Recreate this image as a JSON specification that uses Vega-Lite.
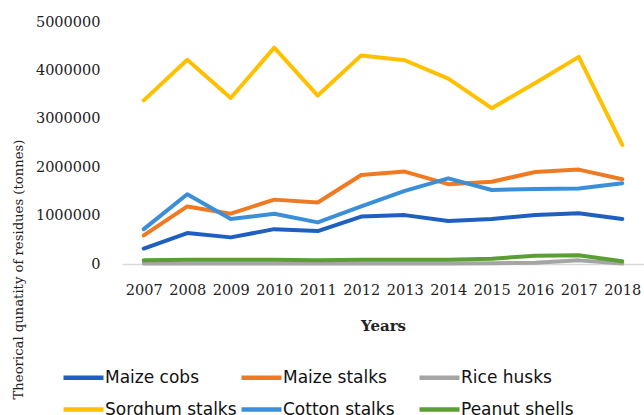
{
  "$schema": "https://vega.github.io/schema/vega-lite/v6.json",
  "autosize": "none",
  "width": 522,
  "height": 242,
  "padding": {"left": 122, "top": 22, "right": 0, "bottom": 151},
  "background": "white",
  "config": {"view": {"stroke": null}},
  "data": {"values": [
    {"year": "2007", "crop": "Maize cobs", "value": 320000},
    {"year": "2008", "crop": "Maize cobs", "value": 640000},
    {"year": "2009", "crop": "Maize cobs", "value": 550000},
    {"year": "2010", "crop": "Maize cobs", "value": 720000},
    {"year": "2011", "crop": "Maize cobs", "value": 680000},
    {"year": "2012", "crop": "Maize cobs", "value": 980000},
    {"year": "2013", "crop": "Maize cobs", "value": 1010000},
    {"year": "2014", "crop": "Maize cobs", "value": 890000},
    {"year": "2015", "crop": "Maize cobs", "value": 930000},
    {"year": "2016", "crop": "Maize cobs", "value": 1010000},
    {"year": "2017", "crop": "Maize cobs", "value": 1050000},
    {"year": "2018", "crop": "Maize cobs", "value": 930000},
    {"year": "2007", "crop": "Maize stalks", "value": 590000},
    {"year": "2008", "crop": "Maize stalks", "value": 1190000},
    {"year": "2009", "crop": "Maize stalks", "value": 1040000},
    {"year": "2010", "crop": "Maize stalks", "value": 1330000},
    {"year": "2011", "crop": "Maize stalks", "value": 1270000},
    {"year": "2012", "crop": "Maize stalks", "value": 1840000},
    {"year": "2013", "crop": "Maize stalks", "value": 1910000},
    {"year": "2014", "crop": "Maize stalks", "value": 1650000},
    {"year": "2015", "crop": "Maize stalks", "value": 1700000},
    {"year": "2016", "crop": "Maize stalks", "value": 1900000},
    {"year": "2017", "crop": "Maize stalks", "value": 1950000},
    {"year": "2018", "crop": "Maize stalks", "value": 1750000},
    {"year": "2007", "crop": "Rice husks", "value": 10000},
    {"year": "2008", "crop": "Rice husks", "value": 12000},
    {"year": "2009", "crop": "Rice husks", "value": 12000},
    {"year": "2010", "crop": "Rice husks", "value": 12000},
    {"year": "2011", "crop": "Rice husks", "value": 10000},
    {"year": "2012", "crop": "Rice husks", "value": 12000},
    {"year": "2013", "crop": "Rice husks", "value": 12000},
    {"year": "2014", "crop": "Rice husks", "value": 12000},
    {"year": "2015", "crop": "Rice husks", "value": 15000},
    {"year": "2016", "crop": "Rice husks", "value": 25000},
    {"year": "2017", "crop": "Rice husks", "value": 75000},
    {"year": "2018", "crop": "Rice husks", "value": 8000},
    {"year": "2007", "crop": "Sorghum stalks", "value": 3380000},
    {"year": "2008", "crop": "Sorghum stalks", "value": 4220000},
    {"year": "2009", "crop": "Sorghum stalks", "value": 3430000},
    {"year": "2010", "crop": "Sorghum stalks", "value": 4470000},
    {"year": "2011", "crop": "Sorghum stalks", "value": 3480000},
    {"year": "2012", "crop": "Sorghum stalks", "value": 4310000},
    {"year": "2013", "crop": "Sorghum stalks", "value": 4210000},
    {"year": "2014", "crop": "Sorghum stalks", "value": 3830000},
    {"year": "2015", "crop": "Sorghum stalks", "value": 3220000},
    {"year": "2016", "crop": "Sorghum stalks", "value": 3740000},
    {"year": "2017", "crop": "Sorghum stalks", "value": 4280000},
    {"year": "2018", "crop": "Sorghum stalks", "value": 2460000},
    {"year": "2007", "crop": "Cotton stalks", "value": 720000},
    {"year": "2008", "crop": "Cotton stalks", "value": 1440000},
    {"year": "2009", "crop": "Cotton stalks", "value": 930000},
    {"year": "2010", "crop": "Cotton stalks", "value": 1040000},
    {"year": "2011", "crop": "Cotton stalks", "value": 860000},
    {"year": "2012", "crop": "Cotton stalks", "value": 1190000},
    {"year": "2013", "crop": "Cotton stalks", "value": 1510000},
    {"year": "2014", "crop": "Cotton stalks", "value": 1770000},
    {"year": "2015", "crop": "Cotton stalks", "value": 1530000},
    {"year": "2016", "crop": "Cotton stalks", "value": 1550000},
    {"year": "2017", "crop": "Cotton stalks", "value": 1560000},
    {"year": "2018", "crop": "Cotton stalks", "value": 1670000},
    {"year": "2007", "crop": "Peanut shells", "value": 75000},
    {"year": "2008", "crop": "Peanut shells", "value": 90000},
    {"year": "2009", "crop": "Peanut shells", "value": 90000},
    {"year": "2010", "crop": "Peanut shells", "value": 90000},
    {"year": "2011", "crop": "Peanut shells", "value": 80000},
    {"year": "2012", "crop": "Peanut shells", "value": 90000},
    {"year": "2013", "crop": "Peanut shells", "value": 90000},
    {"year": "2014", "crop": "Peanut shells", "value": 90000},
    {"year": "2015", "crop": "Peanut shells", "value": 110000},
    {"year": "2016", "crop": "Peanut shells", "value": 170000},
    {"year": "2017", "crop": "Peanut shells", "value": 180000},
    {"year": "2018", "crop": "Peanut shells", "value": 55000}
  ]},
  "mark": {"type": "line", "strokeWidth": 4, "strokeCap": "round", "strokeJoin": "round"},
  "encoding": {
    "x": {
      "field": "year", "type": "ordinal",
      "scale": {"type": "point", "padding": 0.5},
      "axis": {
        "title": "Years",
        "labelAngle": 0,
        "labelFont": "DejaVu Serif", "labelFontSize": 14.5, "labelColor": "#222222",
        "labelPadding": 19,
        "ticks": false,
        "grid": false,
        "domainColor": "#d9d9d9", "domainWidth": 1.5,
        "titleFont": "DejaVu Serif", "titleFontSize": 15, "titleFontWeight": "bold", "titleColor": "#222222",
        "titleBaseline": "middle", "titleY": 61
      }
    },
    "y": {
      "field": "value", "type": "quantitative",
      "scale": {"domain": [0, 5000000], "nice": false},
      "axis": {
        "title": "Theorical qunatity of residues (tonnes)",
        "values": [0, 1000000, 2000000, 3000000, 4000000, 5000000],
        "format": "d",
        "labelFont": "DejaVu Serif", "labelFontSize": 14.5, "labelColor": "#222222",
        "labelPadding": 22,
        "ticks": false, "domain": false, "grid": false,
        "titleFont": "DejaVu Serif", "titleFontSize": 13.2, "titleFontWeight": "normal", "titleColor": "#222222",
        "titleAngle": -90, "titleAlign": "center", "titleBaseline": "middle",
        "titleX": -104, "titleY": 247
      }
    },
    "color": {
      "field": "crop", "type": "nominal",
      "scale": {
        "domain": ["Maize cobs", "Maize stalks", "Rice husks", "Sorghum stalks", "Cotton stalks", "Peanut shells"],
        "range": ["#1f5fbf", "#f07a22", "#a5a5a5", "#ffc000", "#3b8ed8", "#5b9f34"]
      },
      "legend": {
        "title": null,
        "orient": "none",
        "legendX": -61,
        "legendY": 333,
        "direction": "horizontal",
        "columns": 3,
        "gridAlign": "all",
        "columnPadding": -5,
        "rowPadding": -13,
        "symbolType": "stroke",
        "symbolSize": 1600,
        "symbolStrokeWidth": 4.5,
        "labelOffset": -1,
        "labelFont": "DejaVu Sans", "labelFontSize": 17, "labelColor": "#111111",
        "labelLimit": 300
      }
    }
  }
}
